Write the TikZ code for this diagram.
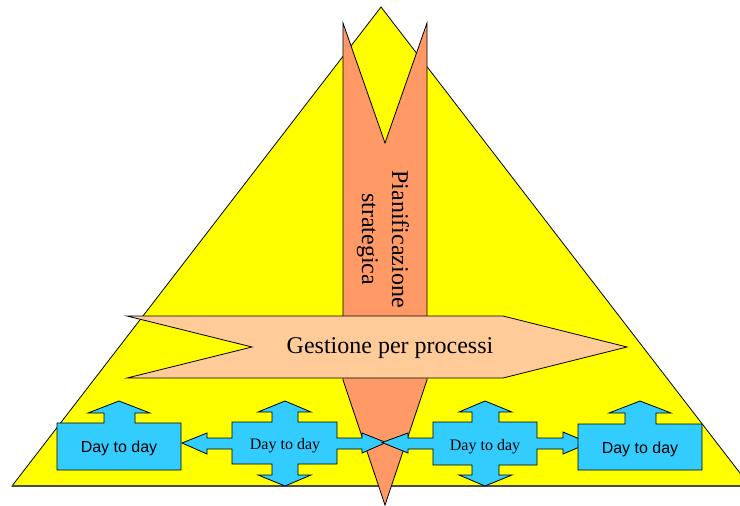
\documentclass[tikz,border=0pt]{standalone}
\usepackage{fontspec}
\setmainfont{Liberation Serif}
\newfontfamily\arialf{Liberation Sans}
\begin{document}
\begin{tikzpicture}[x=1pt,y=-1pt,
  outline/.style={draw=black,line width=0.8pt,line join=miter},
  pyramid/.style={outline,fill=pureyellow},
  strategy/.style={outline,fill=orange1},
  process/.style={outline,fill=peach},
  daybox/.style={outline,fill=sky},
  bigtext/.style={font=\fontsize{24}{30}\selectfont,inner sep=0pt},
  daysans/.style={font=\arialf\fontsize{16}{19}\selectfont,inner sep=0pt},
  dayserif/.style={font=\fontsize{16}{19}\selectfont,inner sep=0pt}]
\definecolor{pureyellow}{HTML}{FFFF00}
\definecolor{orange1}{HTML}{FF9966}
\definecolor{peach}{HTML}{FFCC99}
\definecolor{sky}{HTML}{33CCFF}
\useasboundingbox (0,0) rectangle (740,506);
\clip (0,0) rectangle (740,506);

% pyramid
\path[pyramid] (381,7) -- (750,486) -- (12,486) -- cycle;
\draw[line width=1.8pt,black!70] (12,486) -- (750,486);

% strategic planning arrow (vertical, notched tail, pointed head)
\path[strategy] (343,23) -- (385,143) -- (427,23) -- (427,380)
  -- (385,505) -- (343,380) -- cycle;
\node[bigtext,rotate=-90,align=center] (plan) at (383,239)
  {Pianificazione\\strategica};

% process management arrow (horizontal)
\path[process] (127,316) -- (503,316) -- (627,347) -- (503,378)
  -- (127,378) -- (252,347) -- cycle;
\node[bigtext] (proc) at (390,348) {Gestione per processi};

% day-to-day, second block (four-way arrow)
\path[daybox] (232,422) -- (272,422) -- (272,412) -- (258,412) -- (285,401)
  -- (311,412) -- (298,412) -- (298,422) -- (337,422) -- (337,438)
  -- (362,438) -- (362,433) -- (386,442.5) -- (362,453) -- (362,449)
  -- (337,449) -- (337,464) -- (298,464) -- (298,475) -- (311,475)
  -- (285,486) -- (258,475) -- (272,475) -- (272,464) -- (232,464)
  -- (232,449) -- (207,449) -- (207,454) -- (182,443) -- (207,433)
  -- (207,438) -- (232,438) -- cycle;
\node[dayserif] (d2) at (285,446) {Day to day};

% day-to-day, third block (four-way arrow)
\path[daybox] (433,422) -- (472,422) -- (472,412) -- (459,412) -- (485,401)
  -- (512,412) -- (499,412) -- (499,422) -- (537,422) -- (537,438)
  -- (563,438) -- (563,432) -- (589,443) -- (563,454) -- (563,449)
  -- (537,449) -- (537,465) -- (499,465) -- (499,475) -- (512,475)
  -- (485,486) -- (459,475) -- (472,475) -- (472,465) -- (433,465)
  -- (433,449) -- (408,449) -- (408,453) -- (382,442.5) -- (408,433)
  -- (408,438) -- (433,438) -- cycle;
\node[dayserif] (d3) at (485,447) {Day to day};

% day-to-day, first block (box with up arrow)
\path[daybox] (57,423) -- (104,423) -- (104,413) -- (88,413) -- (119,401)
  -- (150,413) -- (135,413) -- (135,423) -- (181,423) -- (181,470)
  -- (57,470) -- cycle;
\node[daysans] (d1) at (119,448) {Day to day};

% day-to-day, fourth block (box with up arrow)
\path[daybox] (578,424) -- (625,424) -- (625,413) -- (609,413) -- (640,401)
  -- (671,413) -- (656,413) -- (656,424) -- (702,424) -- (702,470)
  -- (578,470) -- cycle;
\node[daysans] (d4) at (640,449) {Day to day};
\end{tikzpicture}
\end{document}
